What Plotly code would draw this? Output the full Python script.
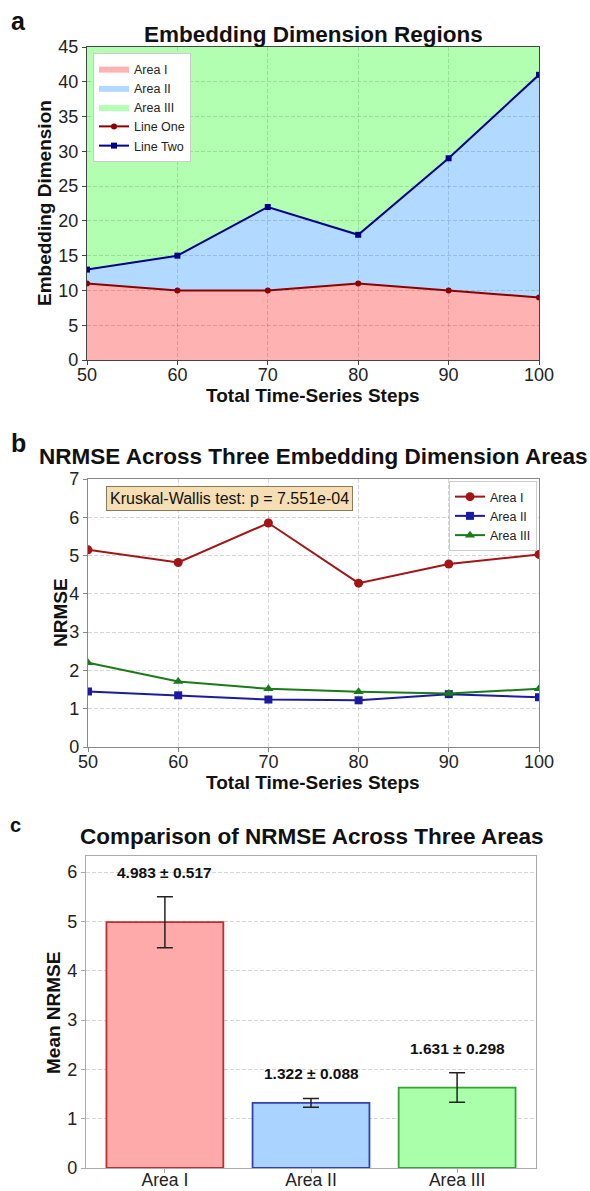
import plotly.graph_objects as go

W, H = 590, 1191
FONT = "Liberation Sans, Arial, sans-serif"

# ---------- Panel a data ----------
steps = [50, 60, 70, 80, 90, 100]
line_one = [11, 10, 10, 11, 10, 9]
line_two = [13, 15, 22, 18, 29, 41]
dim_max = 45

# ---------- Panel b data ----------
nrmse_area1 = [5.15, 4.82, 5.85, 4.28, 4.78, 5.03]
nrmse_area2 = [1.45, 1.35, 1.24, 1.22, 1.38, 1.30]
nrmse_area3 = [2.20, 1.71, 1.52, 1.44, 1.40, 1.52]
kw_text = "Kruskal-Wallis test: p = 7.551e-04"

# ---------- Panel c data ----------
areas = ["Area I", "Area II", "Area III"]
mean_nrmse = [4.983, 1.322, 1.631]
std_nrmse = [0.517, 0.088, 0.298]


def px(x):
    return x / W


def py(y):
    return 1 - y / H


fig = go.Figure()

# ----- Panel a: areas -----
fig.add_trace(go.Scatter(x=steps, y=line_one, fill="tozeroy", mode="lines",
                         line=dict(color="#c84848", width=0),
                         fillcolor="rgba(255,0,0,0.3)", name="Area I",
                         xaxis="x", yaxis="y", legend="legend"))
fig.add_trace(go.Scatter(x=steps, y=line_two, fill="tonexty", mode="lines",
                         line=dict(color="#4860c8", width=0),
                         fillcolor="rgba(0,128,255,0.3)", name="Area II",
                         xaxis="x", yaxis="y", legend="legend"))
fig.add_trace(go.Scatter(x=steps, y=[dim_max] * len(steps), fill="tonexty", mode="lines",
                         line=dict(color="#48a848", width=0),
                         fillcolor="rgba(0,255,0,0.3)", name="Area III",
                         xaxis="x", yaxis="y", legend="legend"))
fig.add_trace(go.Scatter(x=steps, y=line_one, mode="lines+markers",
                         line=dict(color="#8b0000", width=2),
                         marker=dict(symbol="circle", size=6, color="#8b0000"),
                         name="Line One", xaxis="x", yaxis="y", legend="legend"))
fig.add_trace(go.Scatter(x=steps, y=line_two, mode="lines+markers",
                         line=dict(color="#00008b", width=2),
                         marker=dict(symbol="square", size=6, color="#00008b"),
                         name="Line Two", xaxis="x", yaxis="y", legend="legend"))

# ----- Panel b: lines -----
fig.add_trace(go.Scatter(x=steps, y=nrmse_area1, mode="lines+markers",
                         line=dict(color="#a31515", width=2),
                         marker=dict(symbol="circle", size=9, color="#a31515"),
                         name="Area I", xaxis="x2", yaxis="y2", legend="legend2"))
fig.add_trace(go.Scatter(x=steps, y=nrmse_area2, mode="lines+markers",
                         line=dict(color="#1a1aa3", width=2),
                         marker=dict(symbol="square", size=8, color="#1a1aa3"),
                         name="Area II", xaxis="x2", yaxis="y2", legend="legend2"))
fig.add_trace(go.Scatter(x=steps, y=nrmse_area3, mode="lines+markers",
                         line=dict(color="#1a7a1a", width=2),
                         marker=dict(symbol="triangle-up", size=9, color="#1a7a1a"),
                         name="Area III", xaxis="x2", yaxis="y2", legend="legend2"))

# ----- Panel c: bars -----
fig.add_trace(go.Bar(x=areas, y=mean_nrmse, width=0.8,
                     marker=dict(color=["#ffaaaa", "#aad4ff", "#aaffaa"],
                                 line=dict(color=["#b83030", "#3040b8", "#38a038"], width=1.8)),
                     error_y=dict(type="data", array=std_nrmse, color="#222222",
                                  thickness=1.5, width=8),
                     showlegend=False, xaxis="x3", yaxis="y3"))

c_top = max(m + s for m, s in zip(mean_nrmse, std_nrmse)) * 1.15

TICK = 18
tickfont = dict(family=FONT, size=TICK, color="#222222")
grid = dict(showgrid=True, gridcolor="rgba(0,0,0,0.16)", griddash="4px,2px", gridwidth=1)


def ax(domain, anchor, color, **kw):
    d = dict(domain=domain, anchor=anchor, showline=True, linecolor=color, linewidth=1.3,
             mirror=True, ticks="outside", ticklen=4, tickcolor=color, zeroline=False,
             tickfont=tickfont, automargin=False)
    d.update(grid)
    d.update(kw)
    return d


annotations = []


def text(x, y, s, size, bold=True, angle=0, xanchor="center", color="#111111"):
    annotations.append(dict(x=x, y=y, xref="paper", yref="paper", text=s, showarrow=False,
                            textangle=angle, xanchor=xanchor, yanchor="middle",
                            font=dict(family=FONT, size=size, color=color,
                                      weight="bold" if bold else "normal")))


TITLE = 22.5
AXT = 19

# panel labels and titles
text(px(9), py(21), "a", 25, bold=True, xanchor="left")
text(px(313), py(35), "Embedding Dimension Regions", TITLE)
text(px(45), py(203), "Embedding Dimension", AXT, angle=-90)
text(px(313), py(395), "Total Time-Series Steps", AXT)

text(px(9), py(443), "b", 25, bold=True, xanchor="left")
text(px(313), py(457), "NRMSE Across Three Embedding Dimension Areas", TITLE)
text(px(60), py(613), "NRMSE", AXT, angle=-90)
text(px(313), py(782), "Total Time-Series Steps", AXT)

text(px(8), py(825), "c", 20, bold=True, xanchor="left")
text(px(311), py(836), "Comparison of NRMSE Across Three Areas", TITLE)
text(px(54), py(1013), "Mean NRMSE", AXT, angle=-90)

# KW box
annotations.append(dict(x=0.04, y=0.975, xref="x2 domain", yref="y2 domain", text=kw_text,
                        showarrow=False, xanchor="left", yanchor="top",
                        bgcolor="#f5deb3", bordercolor="#8b7a5a", borderwidth=1, borderpad=3,
                        font=dict(family=FONT, size=16, color="#111111")))

# bar labels
for a_, m, s in zip(areas, mean_nrmse, std_nrmse):
    annotations.append(dict(x=a_, y=m + s, xref="x3", yref="y3", text=f"{m:.3f} ± {s:.3f}",
                            showarrow=False, xanchor="center", yanchor="bottom", yshift=14,
                            font=dict(family=FONT, size=15.5, color="#111111", weight="bold")))

fig.update_layout(
    width=W, height=H, margin=dict(l=0, r=0, t=0, b=0),
    paper_bgcolor="white", plot_bgcolor="white",
    font=dict(family=FONT, color="#111111"),
    xaxis=ax([px(87), px(539)], "y", "#444444", range=[50, 100], dtick=10, ticklabelstandoff=-6),
    yaxis=ax([py(360), py(47)], "x", "#444444", range=[0, dim_max], dtick=5),
    xaxis2=ax([px(88), px(539)], "y2", "#888888", range=[50, 100], dtick=10, ticklabelstandoff=-6),
    yaxis2=ax([py(747), py(479)], "x2", "#888888", range=[0, 7], dtick=1),
    xaxis3=ax([px(86), px(536)], "y3", "#aaaaaa", range=[-0.54, 2.54], showgrid=False,
              ticklabelstandoff=-8, tickfont=dict(family=FONT, size=17.5, color="#222222")),
    yaxis3=ax([py(1168), py(856)], "x3", "#aaaaaa", range=[0, c_top], dtick=1),
    legend=dict(x=px(93), y=py(53), xanchor="left", yanchor="top", bgcolor="white",
                bordercolor="#cccccc", borderwidth=1, traceorder="normal",
                font=dict(family=FONT, size=12.5, color="#222"), itemwidth=30),
    legend2=dict(x=px(537), y=py(481), xanchor="right", yanchor="top", bgcolor="white",
                 bordercolor="#cccccc", borderwidth=1, traceorder="normal",
                 font=dict(family=FONT, size=12.5, color="#222"), itemwidth=30),
    annotations=annotations,
    showlegend=True,
)

fig.write_html("out.html")
